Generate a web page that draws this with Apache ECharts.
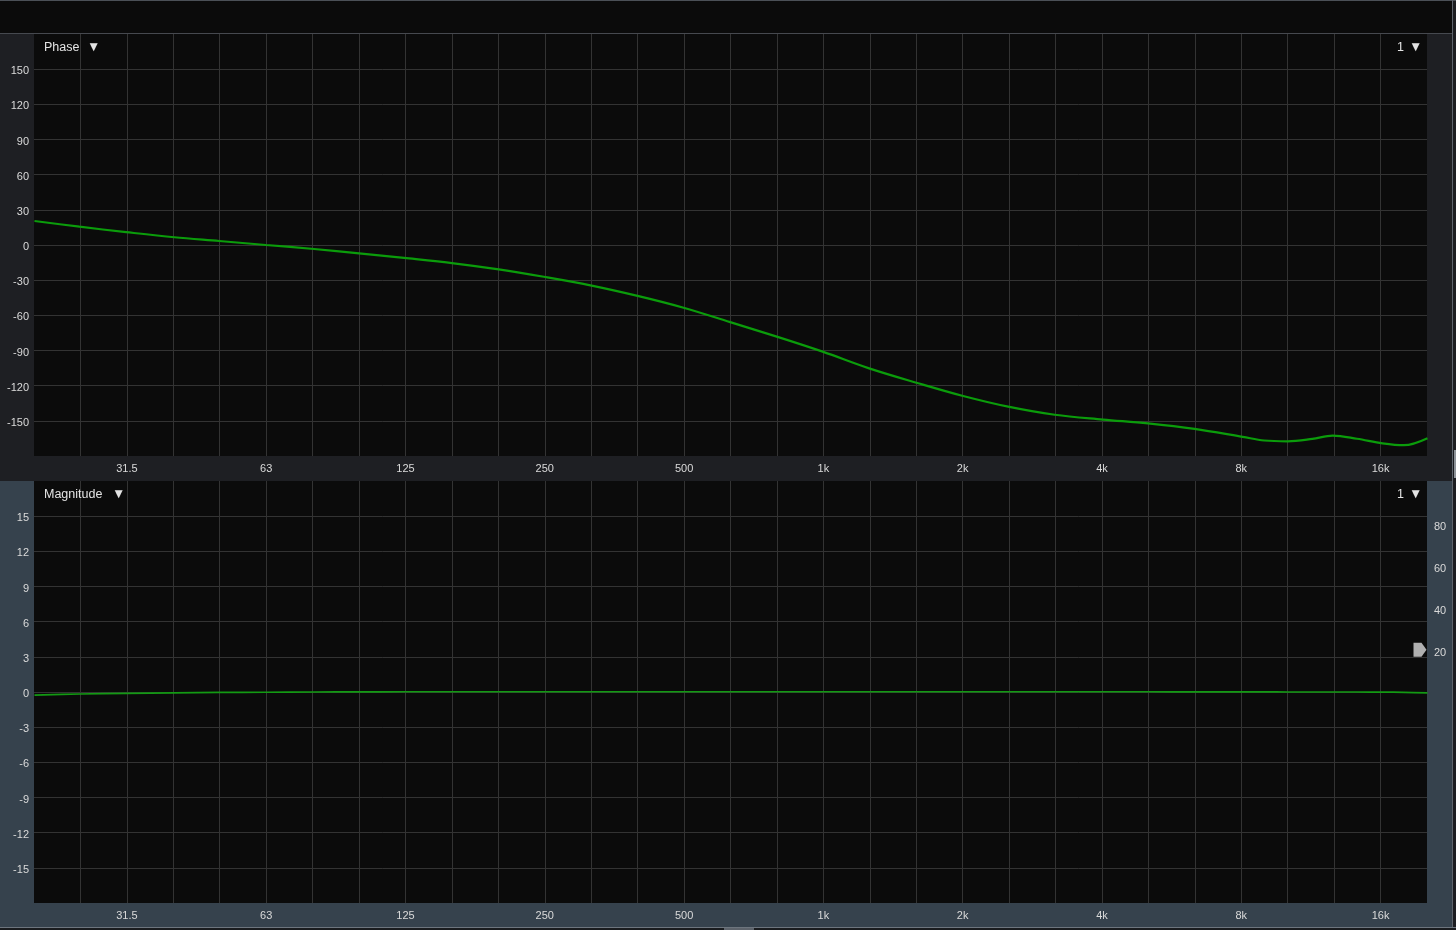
<!DOCTYPE html>
<html>
<head>
<meta charset="utf-8">
<script src="https://cdn.jsdelivr.net/npm/echarts@6/dist/echarts.min.js"></script>
<style>
  html, body { margin: 0; padding: 0; background: #0b0b0b; width: 1456px; height: 930px; overflow: hidden; }
  .bx { position: absolute; }
  #chart { position: absolute; left: 0; top: 0; width: 1456px; height: 930px; }
</style>
</head>
<body>
<div class="bx" style="left:0;top:0;width:1456px;height:1px;background:#4b5057"></div>
<div class="bx" style="left:0;top:34px;width:1452px;height:447px;background:#1e1f23"></div>
<div class="bx" style="left:0;top:481px;width:1452px;height:446px;background:#36424d"></div>
<div class="bx" style="left:0;top:33px;width:1452px;height:1px;background:#46494f"></div>
<div class="bx" style="left:1452px;top:0;width:1px;height:927px;background:#5d636b"></div>
<div class="bx" style="left:1453px;top:1px;width:3px;height:926px;background:#1c1d21"></div>
<div class="bx" style="left:1454px;top:450px;width:2px;height:28px;background:#8d9298"></div>
<div class="bx" style="left:0;top:927px;width:1456px;height:1px;background:#6d757e"></div>
<div class="bx" style="left:0;top:928px;width:1456px;height:2px;background:#1a1c1f"></div>
<div class="bx" style="left:724px;top:928px;width:30px;height:2px;background:#5d636b"></div>
<div id="chart"></div>
<script>
// ---- data ----
const freqHz = [20, 25, 31.5, 40, 50, 63, 80, 100, 125, 160, 200, 250, 315, 400, 500, 630, 800, 1000,
  1250, 1600, 2000, 2500, 3150, 4000, 5000, 6300, 8000, 8900, 10000, 11300, 12500, 14100, 16000, 17800, 20000];
const phaseDeg = [20.5, 15.6, 11.0, 6.6, 3.4, 0.0, -3.4, -7.1, -11.0, -15.6, -20.8, -27.1, -34.4, -43.6, -53.5,
  -65.8, -78.6, -91.2, -105.0, -117.9, -128.8, -137.9, -144.8, -148.9, -152.2, -156.9, -163.7, -166.8,
  -167.5, -165.4, -162.6, -165.3, -169.2, -170.8, -164.8];
const magDb = [-0.26, -0.17, -0.12, -0.07, -0.04, -0.02, 0.0, 0.01, 0.02, 0.02, 0.02, 0.02, 0.02, 0.02, 0.02,
  0.02, 0.02, 0.02, 0.02, 0.02, 0.02, 0.02, 0.02, 0.02, 0.02, 0.01, 0.01, 0.01, 0.0, 0.0, 0.0, 0.0,
  -0.01, -0.03, -0.08];
const xTickFreqs = [31.5, 63, 125, 250, 500, 1000, 2000, 4000, 8000, 16000];
const xTickLabels = ['31.5', '63', '125', '250', '500', '1k', '2k', '4k', '8k', '16k'];
const rightTickLabels = [20, 40, 60, 80];
const markerLevel = 20;
const phaseTitle = 'Phase';
const magTitle = 'Magnitude';
const channelLabel = '1';
const dropGlyph = '\u25BC';

// ---- chart ----
const labelMap = {};
xTickFreqs.forEach((f, i) => { labelMap[Math.round(Math.log10(f) * 10)] = xTickLabels[i]; });
const FONT = '"Liberation Sans", Arial, sans-serif';
const LBL = '#dadada';
const GRIDC = '#333333';

function tickAxis(gridIndex) {
  return {
    type: 'value', gridIndex, position: 'bottom',
    min: 1.3, max: 4.3, interval: 0.1,
    axisLine: { show: false }, axisTick: { show: false },
    axisLabel: {
      color: LBL, fontSize: 11, fontFamily: FONT, margin: 7,
      showMinLabel: true, showMaxLabel: true,
      formatter: v => labelMap[Math.round(v * 10)] || ''
    },
    splitLine: { show: true, showMinLine: false, showMaxLine: false, lineStyle: { color: GRIDC, width: 1 } }
  };
}
function logAxis(gridIndex) {
  return {
    type: 'log', gridIndex, logBase: 10, show: false,
    min: Math.pow(10, 1.3), max: Math.pow(10, 4.3),
    splitLine: { show: false }
  };
}
function yLeft(gridIndex, lim, step) {
  return {
    type: 'value', gridIndex, position: 'left', min: -lim, max: lim, interval: step,
    axisLine: { show: false }, axisTick: { show: false },
    axisLabel: {
      color: LBL, fontSize: 11, fontFamily: FONT, margin: 5,
      verticalAlign: 'top', lineHeight: 4,
      formatter: v => (Math.abs(v) >= lim ? '' : String(v))
    },
    splitLine: { show: true, showMinLine: false, showMaxLine: false, lineStyle: { color: GRIDC, width: 1 } }
  };
}
function txt(x, y, s, size) {
  return { type: 'text', left: x, top: y, silent: true, z: 10,
    style: { text: s, fill: '#e4e4e4', font: size + 'px ' + FONT } };
}

const chart = echarts.init(document.getElementById('chart'), null, { renderer: 'canvas' });
chart.setOption({
  animation: false,
  backgroundColor: 'transparent',
  grid: [
    { left: 34, top: 34, width: 1393, height: 422, show: true, backgroundColor: '#0b0b0b', borderWidth: 0 },
    { left: 34, top: 481, width: 1393, height: 422, show: true, backgroundColor: '#0b0b0b', borderWidth: 0 }
  ],
  xAxis: [tickAxis(0), logAxis(0), tickAxis(1), logAxis(1)],
  yAxis: [
    yLeft(0, 180, 30),
    yLeft(1, 18, 3),
    {
      type: 'value', gridIndex: 1, position: 'right', min: -100, max: 100, interval: 20,
      axisLine: { show: false }, axisTick: { show: false }, splitLine: { show: false },
      axisLabel: {
        color: LBL, fontSize: 11, fontFamily: FONT, margin: 7,
        verticalAlign: 'top', lineHeight: 7,
        formatter: v => (rightTickLabels.indexOf(v) >= 0 ? String(v) : '')
      }
    }
  ],
  graphic: [
    txt(44, 41, phaseTitle, 12.5), txt(87, 40, dropGlyph, 13.5),
    txt(1397, 41, channelLabel, 12.5), txt(1409, 40, dropGlyph, 13.5),
    txt(44, 488, magTitle, 12.5), txt(112, 487, dropGlyph, 13.5),
    txt(1397, 488, channelLabel, 12.5), txt(1409, 487, dropGlyph, 13.5)
  ],
  series: [
    {
      type: 'line', xAxisIndex: 1, yAxisIndex: 0, symbol: 'none', smooth: 0.35,
      data: freqHz.map((f, i) => [f, phaseDeg[i]]),
      lineStyle: { color: '#0b9c0b', width: 2.2 }
    },
    {
      type: 'line', xAxisIndex: 3, yAxisIndex: 1, symbol: 'none', smooth: 0.35,
      data: freqHz.map((f, i) => [f, magDb[i]]),
      lineStyle: { color: '#139a13', width: 1.7 }
    },
    {
      type: 'scatter', xAxisIndex: 3, yAxisIndex: 2, clip: false, silent: true,
      symbol: 'path://M0,0 L8,0 L13,7 L8,14 L0,14 Z', symbolSize: [13, 14], symbolOffset: [-7, 0],
      itemStyle: { color: '#d9d9d9' },
      data: [[Math.pow(10, 4.3), markerLevel]]
    }
  ]
});
</script>
</body>
</html>
